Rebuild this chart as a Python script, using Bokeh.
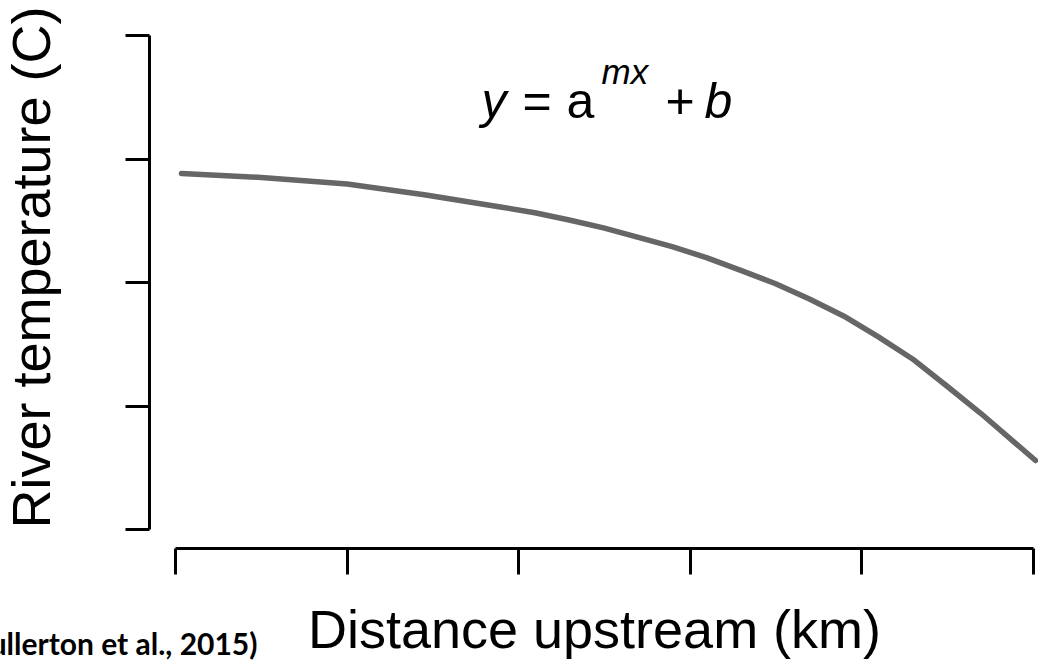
import math
from bokeh.plotting import figure
from bokeh.models import Range1d, FixedTicker, Label, LinearAxis
from bokeh.embed import file_html
from bokeh.resources import INLINE

# ---- data ----
distance = [0.035, 0.52, 1.0, 1.45, 1.894, 2.094, 2.294, 2.494, 2.692, 2.894, 3.094,
            3.294, 3.494, 3.694, 3.893, 4.094, 4.295, 4.493, 4.694, 4.894, 5.012]
temperature = [2.883, 2.849, 2.797, 2.710, 2.612, 2.565, 2.506, 2.442, 2.368, 2.290, 2.202,
               2.098, 1.992, 1.867, 1.729, 1.562, 1.381, 1.164, 0.939, 0.700, 0.559]
x_ticks = [0, 1, 2, 3, 4, 5]
y_ticks = [0, 1, 2, 3, 4]
x_label = "Distance upstream (km)"
y_label = "River temperature (C)"
citation = "(Fullerton et al., 2015)"
equation_parts = ["y", "=", "a", "mx", "+", "b"]

FONT = "Liberation Sans"
W, H = 1038, 663

# pixel layout of the reference (axis 0..5 spans px 175..1033, 0..4 spans px 529..35)
X0, XPU = 175.0, 171.6
Y0, YPU = 529.0, 123.5


def dx(px):
    return (px - X0) / XPU


def dy(py):
    return (Y0 - py) / YPU


p = figure(width=W, height=H, output_backend="svg", toolbar_location=None,
           x_range=Range1d(dx(0), dx(W)), y_range=Range1d(dy(H), dy(0)),
           x_axis_type=None, y_axis_type=None,
           min_border=0, min_border_left=0, min_border_right=0,
           min_border_top=0, min_border_bottom=0)
p.grid.visible = False
p.outline_line_color = None
p.background_fill_color = "white"
p.border_fill_color = "white"

p.line(distance, temperature, line_color="#666666", line_width=5.5, line_cap="round")

# R-style detached axes without tick labels
xa = LinearAxis(fixed_location=dy(548), ticker=FixedTicker(ticks=x_ticks),
                bounds=(x_ticks[0], x_ticks[-1]))
ya = LinearAxis(fixed_location=dx(149), ticker=FixedTicker(ticks=y_ticks),
                bounds=(y_ticks[0], y_ticks[-1]))
for ax, tick_len in ((xa, 26), (ya, 24)):
    ax.major_label_text_font_size = "0px"
    ax.major_label_text_alpha = 0
    ax.major_tick_out = tick_len
    ax.major_tick_in = 0
    ax.minor_tick_out = 0
    ax.minor_tick_in = 0
    ax.axis_line_width = 3
    ax.major_tick_line_width = 3
    ax.axis_line_color = "black"
    ax.major_tick_line_color = "black"
xa.major_label_overrides = {t: "" for t in x_ticks}
ya.major_label_overrides = {t: "" for t in y_ticks}
p.add_layout(xa, "below")
p.add_layout(ya, "left")


def add_text(text, px, py, size, style="normal", align="left", angle=0.0, font=FONT):
    p.add_layout(Label(x=dx(px), y=dy(py), text=text, text_font=font, text_font_style=style,
                       text_font_size=f"{size}px", text_color="black", text_align=align,
                       text_baseline="alphabetic", angle=angle))


# axis titles
add_text(x_label, 594, 628, 54, align="center")
add_text(y_label, 30, 267, 54, align="center", angle=math.pi / 2)

# equation y = a^mx + b
eq_x = [481, 522, 566, 601, 665, 704]
eq_y = [100, 100, 100, 71, 100, 100]
eq_size = [50, 50, 50, 35, 50, 50]
eq_style = ["italic", "normal", "normal", "italic", "normal", "italic"]
for t, ex, ey, es, st in zip(equation_parts, eq_x, eq_y, eq_size, eq_style):
    add_text(t, ex, ey, es, style=st)

# citation (cut at the left edge, as in the reference)
add_text(citation, 257, 642, 30, style="bold", align="right", font="Lato")

open("out.html", "w").write(file_html(p, INLINE))
